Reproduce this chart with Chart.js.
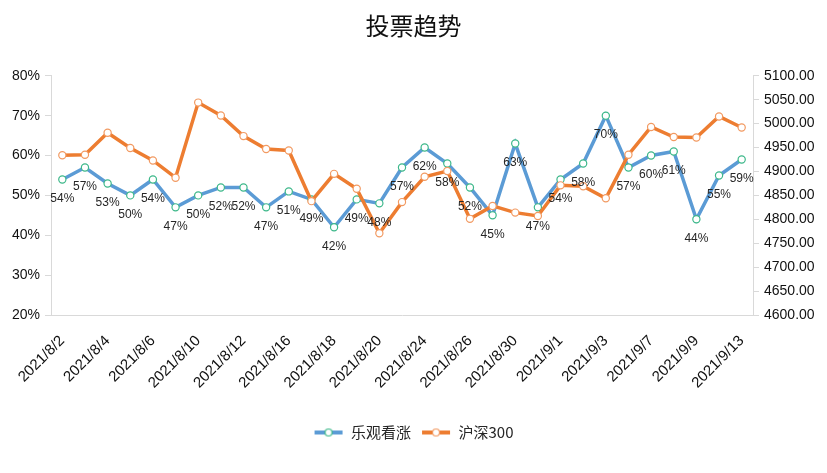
<!DOCTYPE html>
<html>
<head>
<meta charset="utf-8">
<script src="https://cdn.jsdelivr.net/npm/chart.js@4"></script>
<style>
  html, body { margin: 0; padding: 0; background: #fff; }
  #wrap { width: 827px; height: 473px; }
</style>
</head>
<body>
<div id="wrap"><canvas id="myChart" width="827" height="473"></canvas></div>
<script>
const dates = [
  '2021/8/2', '2021/8/3', '2021/8/4', '2021/8/5', '2021/8/6',
  '2021/8/9', '2021/8/10', '2021/8/11', '2021/8/12', '2021/8/13',
  '2021/8/16', '2021/8/17', '2021/8/18', '2021/8/19', '2021/8/20',
  '2021/8/23', '2021/8/24', '2021/8/25', '2021/8/26', '2021/8/27',
  '2021/8/30', '2021/8/31', '2021/9/1', '2021/9/2', '2021/9/3',
  '2021/9/6', '2021/9/7', '2021/9/8', '2021/9/9', '2021/9/10', '2021/9/13'
]
const bullishPct = [
  54, 57, 53, 50, 54, 47, 50, 52, 52, 47,
  51, 49, 42, 49, 48, 57, 62, 58, 52, 45,
  63, 47, 54, 58, 70, 57, 60, 61, 44, 55, 59
]
const hs300 = [
  4934, 4935, 4981, 4949, 4923, 4887, 5044, 5017, 4974, 4947,
  4944, 4838, 4895, 4864, 4771, 4836, 4889, 4901, 4801, 4828,
  4814, 4807, 4871, 4869, 4844, 4935, 4993, 4972, 4971, 5015, 4992
]
const seriesNames = ['乐观看涨', '沪深300']

const blue = '#5B9BD5'
const blueDot = '#3DB88A'
const orange = '#ED7D31'
const orangeDot = '#F29A62'
const axisGray = '#D9D9D9'
const txt = '#262626'

// small legend marker: line with a hollow circle
function legendMarker(lineColor, dotColor) {
  const c = document.createElement('canvas')
  c.width = 30
  c.height = 10
  const g = c.getContext('2d')
  g.strokeStyle = lineColor
  g.lineWidth = 4
  g.beginPath()
  g.moveTo(1, 5)
  g.lineTo(29, 5)
  g.stroke()
  g.fillStyle = '#fff'
  g.strokeStyle = dotColor
  g.lineWidth = 1.2
  g.beginPath()
  g.arc(15, 5, 3.5, 0, Math.PI * 2)
  g.fill()
  g.stroke()
  return c
}
const markers = [legendMarker(blue, blueDot), legendMarker(orange, orangeDot)]

const pctLabels = {
  id: 'pctLabels',
  afterDatasetsDraw(chart) {
    const ctx = chart.ctx
    const meta = chart.getDatasetMeta(0)
    ctx.save()
    ctx.font = '12px "Liberation Sans", Arial, sans-serif'
    ctx.fillStyle = txt
    ctx.textAlign = 'center'
    ctx.textBaseline = 'middle'
    meta.data.forEach((pt, i) => {
      ctx.fillText(bullishPct[i] + '%', pt.x, pt.y + 19)
    })
    ctx.restore()
  }
}

const tickFont = { family: '"Liberation Sans", Arial, sans-serif', size: 14 }

const config = {
  type: 'line',
  data: {
    labels: dates,
    datasets: [
      {
        label: seriesNames[0],
        data: bullishPct,
        yAxisID: 'y',
        borderColor: blue,
        borderWidth: 3.5,
        pointRadius: 3.6,
        pointBorderWidth: 1.2,
        pointBackgroundColor: '#fff',
        pointBorderColor: blueDot,
        tension: 0,
        order: 1
      },
      {
        label: seriesNames[1],
        data: hs300,
        yAxisID: 'y1',
        borderColor: orange,
        borderWidth: 3.5,
        pointRadius: 3.6,
        pointBorderWidth: 1.2,
        pointBackgroundColor: '#fff',
        pointBorderColor: orangeDot,
        tension: 0,
        order: 0
      }
    ]
  },
  options: {
    responsive: false,
    animation: false,
    layout: { padding: { left: 0, right: 0, top: 0, bottom: 23 } },
    plugins: {
      title: {
        display: true,
        text: '投票趋势',
        color: '#111',
        font: { family: '"Noto Sans CJK SC", sans-serif', size: 24, weight: 'normal' },
        padding: { top: 11, bottom: 36 }
      },
      legend: {
        position: 'bottom',
        labels: {
          color: txt,
          font: { family: '"Noto Sans CJK SC", sans-serif', size: 15 },
          usePointStyle: true,
          pointStyleWidth: 30,
          padding: 10,
          sort: (a, b) => a.datasetIndex - b.datasetIndex,
          generateLabels: (chart) => chart.data.datasets.map((ds, i) => ({
            text: ds.label,
            datasetIndex: i,
            pointStyle: markers[i],
            fillStyle: ds.borderColor,
            strokeStyle: ds.borderColor,
            fontColor: txt,
            lineWidth: 0,
            hidden: false
          }))
        }
      },
      tooltip: { enabled: false }
    },
    scales: {
      x: {
        offset: true,
        grid: { display: false },
        border: { display: true, color: axisGray, width: 1 },
        ticks: {
          autoSkip: false,
          maxRotation: 45,
          minRotation: 45,
          color: '#111',
          font: { family: '"Liberation Sans", Arial, sans-serif', size: 15 },
          padding: 9,
          callback: (v, i) => (i % 2 === 0 ? dates[i] : '')
        },
        afterFit: (s) => { s.height = 100 }
      },
      y: {
        position: 'left',
        min: 20,
        max: 80,
        grid: { display: true, drawOnChartArea: false, drawTicks: true, tickLength: 6, color: axisGray },
        border: { display: true, color: axisGray },
        ticks: {
          stepSize: 10,
          color: '#111',
          font: tickFont,
          padding: 5,
          callback: (v) => v + '%'
        },
        afterFit: (s) => { s.width = 51 }
      },
      y1: {
        position: 'right',
        min: 4600,
        max: 5100,
        grid: { display: true, drawOnChartArea: false, drawTicks: true, tickLength: 6, color: axisGray },
        border: { display: true, color: axisGray },
        ticks: {
          stepSize: 50,
          color: '#111',
          font: tickFont,
          padding: 5,
          callback: (v) => v.toFixed(2)
        },
        afterFit: (s) => { s.width = 74 }
      }
    }
  },
  plugins: [pctLabels]
}

const myChart = new Chart(document.getElementById('myChart'), config)
</script>
</body>
</html>
